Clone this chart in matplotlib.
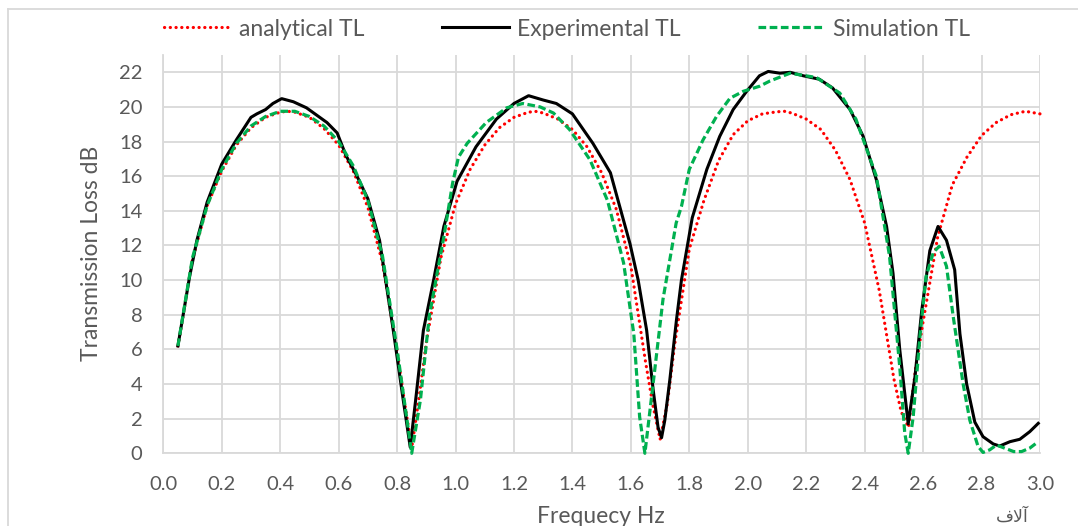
import matplotlib
matplotlib.use("Agg")
import matplotlib.pyplot as plt
from matplotlib.lines import Line2D

# ---------------- data ----------------
freq_analytical = [0.05, 0.10, 0.15, 0.20, 0.25, 0.30, 0.35, 0.40, 0.425, 0.45, 0.50,
                   0.55, 0.60, 0.65, 0.70, 0.75, 0.80, 0.825, 0.85, 0.875, 0.90,
                   0.95, 1.00, 1.05, 1.10, 1.15, 1.20, 1.25, 1.275, 1.30, 1.35, 1.40,
                   1.45, 1.50, 1.55, 1.60, 1.65, 1.675, 1.70, 1.725, 1.75, 1.80,
                   1.85, 1.90, 1.95, 2.00, 2.05, 2.10, 2.125, 2.15, 2.20, 2.25, 2.30,
                   2.35, 2.40, 2.45, 2.50, 2.525, 2.55, 2.575, 2.60, 2.65, 2.70,
                   2.75, 2.80, 2.85, 2.90, 2.95, 3.00]
tl_analytical = [6.2, 11.2, 14.3, 16.3, 17.8, 18.8, 19.4, 19.7, 19.75, 19.7, 19.4,
                 18.75, 17.8, 16.3, 14.2, 11.0, 5.9, 3.0, 0.3, 3.2, 6.4,
                 11.3, 14.4, 16.4, 17.8, 18.8, 19.4, 19.7, 19.74, 19.65, 19.3, 18.7,
                 17.7, 16.2, 14.1, 10.8, 5.3, 2.8, 0.8, 2.9, 6.3, 11.8,
                 14.6, 16.9, 18.4, 19.2, 19.6, 19.72, 19.75, 19.65, 19.3, 18.7, 17.5,
                 15.8, 13.3, 9.4, 4.3, 2.4, 1.5, 5.0, 7.6, 12.5, 15.5,
                 17.1, 18.35, 19.1, 19.55, 19.75, 19.6]

freq_experimental = [0.05, 0.09, 0.115, 0.15, 0.20, 0.25, 0.30, 0.32, 0.35, 0.375,
                     0.405, 0.445, 0.49, 0.56, 0.595, 0.625, 0.66, 0.70, 0.74, 0.787, 0.82,
                     0.845, 0.865, 0.89, 0.925, 0.96, 1.005, 1.07, 1.14, 1.20, 1.25,
                     1.30, 1.345, 1.40, 1.47, 1.53, 1.597, 1.625, 1.654, 1.676, 1.693,
                     1.705, 1.716, 1.733, 1.756, 1.773, 1.81, 1.86, 1.904, 1.95, 1.996,
                     2.04, 2.07, 2.11, 2.145, 2.19, 2.245, 2.29, 2.35, 2.395, 2.44,
                     2.475, 2.497, 2.52, 2.549, 2.572, 2.595, 2.623, 2.651, 2.68, 2.708,
                     2.726, 2.749, 2.777, 2.805, 2.84, 2.862, 2.897, 2.931, 2.965, 2.994]
tl_experimental = [6.2, 10.2, 12.3, 14.5, 16.7, 18.1, 19.4, 19.6, 19.85, 20.2,
                   20.48, 20.3, 19.95, 19.1, 18.5, 17.2, 16.1, 14.7, 12.3, 7.1, 3.2,
                   0.35, 3.3, 7.1, 10.0, 13.1, 15.7, 17.7, 19.3, 20.2, 20.65,
                   20.4, 20.2, 19.6, 17.9, 16.2, 12.1, 10.0, 7.1, 3.7, 1.5,
                   0.9, 1.9, 4.2, 7.7, 10.0, 13.6, 16.4, 18.3, 19.85, 20.9,
                   21.8, 22.05, 21.95, 22.0, 21.8, 21.6, 21.1, 19.85, 18.3, 15.8,
                   13.1, 10.4, 6.0, 1.7, 4.4, 8.2, 11.7, 13.1, 12.3, 10.6,
                   6.9, 4.0, 1.8, 0.96, 0.54, 0.42, 0.67, 0.81, 1.25, 1.73]

freq_simulation = [0.05, 0.10, 0.15, 0.20, 0.25, 0.30, 0.35, 0.40, 0.45, 0.50,
                   0.55, 0.60, 0.65, 0.70, 0.75, 0.80, 0.825, 0.85, 0.88, 0.91,
                   0.96, 0.99, 1.01, 1.04, 1.105, 1.175, 1.23, 1.29, 1.335, 1.39,
                   1.46, 1.52, 1.575, 1.61, 1.63, 1.648, 1.676, 1.71, 1.755, 1.773,
                   1.80, 1.847, 1.893, 1.939, 1.984, 2.041, 2.076, 2.145, 2.235, 2.315,
                   2.37, 2.44, 2.485, 2.52, 2.537, 2.549, 2.566, 2.59, 2.61, 2.635,
                   2.655, 2.68, 2.703, 2.737, 2.76, 2.788, 2.805, 2.828, 2.851, 2.88,
                   2.91, 2.937, 2.965, 2.994]
tl_simulation = [6.2, 11.3, 14.3, 16.4, 17.9, 18.9, 19.45, 19.75, 19.75, 19.45,
                 18.9, 18.0, 16.6, 14.6, 11.4, 6.0, 3.0, 0.0, 3.1, 7.9,
                 12.5, 15.6, 17.1, 17.9, 19.1, 19.95, 20.2, 20.0, 19.65, 18.7,
                 16.95, 14.6, 11.0, 6.9, 2.1, 0.0, 4.0, 8.9, 13.3, 14.25,
                 16.4, 18.1, 19.45, 20.5, 20.9, 21.2, 21.5, 21.95, 21.7, 20.8,
                 19.3, 16.0, 11.4, 5.0, 1.2, 0.0, 2.1, 6.9, 10.2, 11.6,
                 11.95, 10.8, 7.9, 4.0, 1.9, 0.4, 0.05, 0.2, 0.48, 0.29,
                 0.1, 0.1, 0.3, 0.67]

series_names = ["analytical TL", "Experimental TL", "Simulation TL"]
x_ticks = [0.0, 0.2, 0.4, 0.6, 0.8, 1.0, 1.2, 1.4, 1.6, 1.8, 2.0, 2.2, 2.4, 2.6, 2.8, 3.0]
y_ticks = [0, 2, 4, 6, 8, 10, 12, 14, 16, 18, 20, 22]
x_label = "Frequecy Hz"
y_label = "Transmission Loss dB"
unit_label = "\uFED1\uFEFB\uFE81"   # "آلاف" in shaped (visual-order) presentation forms

# ---------------- styling ----------------
plt.rcParams["font.family"] = ["Lato", "DejaVu Sans"]
TXT = "#595959"
GRID = "#d9d9d9"
W, H = 1078, 526
TICK_FS = 14.5
TITLE_FS = 16.5

fig = plt.figure(figsize=(W / 100, H / 100), dpi=100)
fig.patch.set_facecolor("white")

x0, x1, y_bot, y_top = 163.3, 1040.0, 453.3, 55.0
ax = fig.add_axes([x0 / W, 1 - y_bot / H, (x1 - x0) / W, (y_bot - y_top) / H])

l1, = ax.plot(freq_analytical, tl_analytical, color="#ff0000", lw=2.3,
              linestyle=(0, (0.05, 1.75)), dash_capstyle="round",
              clip_on=False, zorder=3)
l2, = ax.plot(freq_experimental, tl_experimental, color="black", lw=2.2,
              solid_joinstyle="round", clip_on=False, zorder=4)
l3, = ax.plot(freq_simulation, tl_simulation, color="#00b050", lw=2.3,
              linestyle=(0, (2.4, 1.1)), clip_on=False, zorder=5)

ax.set_xlim(0, 3.0)
ax.set_ylim(0, 23)
ax.set_xticks(x_ticks)
ax.set_xticklabels([f"{v:.1f}" for v in x_ticks])
ax.set_yticks(y_ticks)
ax.set_yticklabels([str(v) for v in y_ticks])
ax.grid(True, color=GRID, lw=1.3)
ax.set_axisbelow(True)
for s in ["top", "right"]:
    ax.spines[s].set_visible(False)
for s in ["left", "bottom"]:
    ax.spines[s].set_color(GRID)
    ax.spines[s].set_linewidth(1.3)
ax.tick_params(axis="both", length=0, labelsize=TICK_FS, labelcolor=TXT)
ax.tick_params(axis="y", pad=15)
ax.tick_params(axis="x", pad=16)

fig.text(601 / W, 1 - 516.5 / H, x_label, ha="center", va="center",
         fontsize=TITLE_FS, color=TXT)
fig.text(91.7 / W, 1 - 253 / H, y_label, ha="center", va="center",
         rotation=90, fontsize=TITLE_FS, color=TXT)
fig.text(1012 / W, 1 - 517 / H, unit_label, ha="center", va="center",
         fontsize=12.5, color=TXT, family="DejaVu Sans")

leg = fig.legend([l1, l2, l3], series_names, loc="center",
                 bbox_to_anchor=(567 / W, 1 - 29 / H), ncol=3, frameon=False,
                 fontsize=TITLE_FS, handlelength=2.9, handletextpad=0.35,
                 columnspacing=3.4, labelcolor=TXT)

# chart-area border (left and top edges visible in the reference)
fig.add_artist(Line2D([8 / W, 8 / W], [0, 1 - 9 / H], transform=fig.transFigure,
                      color=GRID, lw=1.3))
fig.add_artist(Line2D([8 / W, 1], [1 - 9 / H, 1 - 9 / H], transform=fig.transFigure,
                      color=GRID, lw=1.3))

fig.savefig("out.png", dpi=100)
